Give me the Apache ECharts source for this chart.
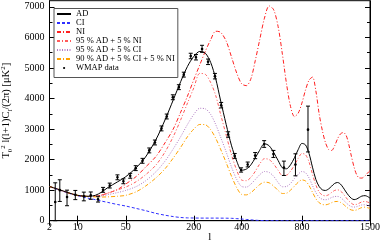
<!DOCTYPE html>
<html>
<head>
<meta charset="utf-8">
<script src="https://cdn.jsdelivr.net/npm/echarts@6/dist/echarts.min.js"></script>
<style>html,body{margin:0;padding:0;background:#fff}#c{width:382px;height:242px}</style>
</head>
<body>
<div id="c"></div>
<script>
// multipole grid for the model curves
const ell = [2,3,4,6,8,10,13,16,20,25,30,40,50,65,80,100,120,140,160,180,200,220,240,260,280,300,325,350,375,400,425,450,475,500,530,560,590,620,650,680,710,740,770,800,830,860,890,920,950,980,1010,1040,1070,1100,1130,1160,1190,1220,1250,1280,1310,1340,1370,1400,1440,1470,1500];
const adVals = [1120,1060,1010,930,870,830,805,800,830,940,1080,1270,1440,1740,2080,2650,3300,3950,4550,5050,5380,5540,5480,5180,4650,3950,3150,2450,1950,1650,1690,1830,2060,2300,2520,2450,2230,1970,1730,1700,1830,2060,2330,2530,2480,2200,1750,1350,1120,1010,990,1040,1130,1220,1250,1200,1080,940,820,730,690,710,760,805,820,790,740];
const ciVals = [1120,1050,1000,920,860,820,770,730,690,640,600,530,480,400,330,240,180,135,105,92,88,86,85,85,85,84,82,78,68,55,40,27,16,8,3,0,0,0,0,0,0,0,0,0,0,0,0,0,0,0,0,0,0,0,0,0,0,0,0,0,0,0,0,0,0,0,0];
const niVals = [1120,1050,1000,920,860,820,800,790,800,840,900,1020,1200,1450,1750,2100,2550,3000,3550,4080,4620,5100,5550,5920,6200,6170,5880,5350,4830,4480,4420,4650,5250,5900,6630,7030,6900,6350,5450,4480,3740,3410,3520,3850,4280,4600,4700,4250,3500,2950,2550,2330,2300,2450,2680,2840,2885,2800,2500,2100,1750,1500,1400,1395,1470,1560,1640];
const m1Vals = [1120,1060,1010,930,870,830,805,795,800,840,900,1010,1100,1280,1500,1820,2250,2750,3300,3850,4350,4820,4790,4520,4100,3500,2800,2150,1650,1330,1310,1420,1620,1850,2030,2000,1850,1650,1480,1490,1620,1820,2040,2200,2160,1920,1520,1170,940,840,815,850,925,990,1010,975,880,760,650,570,525,535,575,615,630,610,580];
const m2Vals = [1120,1060,1010,930,870,830,805,790,790,810,850,920,990,1120,1300,1600,1950,2350,2750,3150,3480,3680,3660,3480,3150,2750,2250,1750,1350,1120,1100,1200,1350,1500,1610,1580,1450,1250,1110,1120,1220,1380,1520,1610,1570,1400,1150,920,770,700,685,710,760,790,795,760,680,590,510,460,445,460,490,515,520,500,480];
const m3Vals = [1120,1060,1010,930,870,830,805,790,780,775,780,800,830,950,1130,1400,1700,2050,2400,2750,3000,3150,3140,2980,2700,2350,1900,1450,1080,860,845,920,1050,1180,1260,1240,1130,990,890,900,1000,1130,1260,1335,1300,1150,930,720,590,530,520,545,590,625,630,600,540,460,390,350,337,355,395,430,445,425,400];

// WMAP band powers with error bars
const wmapL  = [3,4,6,9,13,17,22,26,32,40,47,56,64,75,87,98,112,124,139,155,169,190,207,228,250,277,303,334,365,397,432,474,528,588,661,748,851];
const wmapV  = [610,1000,775,850,800,830,700,1010,1150,1420,1290,1470,1720,1960,2300,2560,3020,3410,4040,4370,4780,5390,5350,5620,5200,4730,3780,2820,2120,1660,1840,2130,2500,2180,1740,1840,2980];
const wmapLo = [0,630,490,690,650,700,610,930,1070,1340,1210,1390,1640,1880,2220,2480,2940,3330,3960,4290,4700,5300,5260,5510,5110,4640,3690,2730,2040,1590,1760,2030,2400,2070,1480,1470,2250];
const wmapHi = [1240,1340,1000,990,935,940,800,1090,1230,1500,1370,1550,1800,2040,2380,2640,3100,3490,4120,4450,4860,5480,5440,5740,5290,4820,3870,2910,2200,1730,1920,2230,2620,2300,1950,2190,3750];

// axis ticks
const xTicks = [2,10,50,200,400,800,1500];
const yMajor = [0,1000,2000,3000,4000,5000,6000,7000];
const yMinor = [500,1500,2500,3500,4500,5500,6500];

const FONT = 'Liberation Serif';
const tx = l => Math.cbrt(l);           // cube-root abscissa, as in the reference
const xMin = tx(2), xMax = tx(1500);
const xTickVals = xTicks.map(tx);

const chart = echarts.init(document.getElementById('c'), null, {renderer: 'canvas'});

function lineSeries(name, vals, color, dash, z) {
  return {
    name, type: 'line', xAxisIndex: 0, yAxisIndex: 0,
    data: ell.map((l, i) => [tx(l), vals[i]]),
    showSymbol: false, symbol: 'none', smooth: 0.3, z: z || 2,
    lineStyle: {color, width: 1, type: dash},
    itemStyle: {color},
    emphasis: {disabled: true}
  };
}

const wmapData = wmapL.map((l, i) => [tx(l), wmapV[i], wmapLo[i], wmapHi[i]]);

const baseY = {min: 0, max: 7200, type: 'value', splitLine: {show: false}};

const option = {
  animation: false,
  backgroundColor: '#fff',
  grid: {left: 49.5, right: 12, top: 0.7, bottom: 21.3, show: true, borderColor: '#000', borderWidth: 1,
         containLabel: false, outerBoundsMode: 'none'},
  xAxis: [
    {
      type: 'value', min: xMin, max: xMax, position: 'bottom',
      name: 'l', nameLocation: 'middle', nameGap: 11, nameMoveOverlap: false,
      nameTextStyle: {fontFamily: FONT, fontSize: 11, color: '#000', verticalAlign: 'top'},
      axisLine: {show: true, lineStyle: {color: '#000', width: 1}},
      axisTick: {show: true, inside: true, length: 5, customValues: xTickVals, lineStyle: {color: '#000'}},
      axisLabel: {show: true, customValues: xTickVals, margin: 2, fontFamily: FONT, fontSize: 10, color: '#000',
        formatter: v => String(Math.round(v * v * v))},
      splitLine: {show: false}
    },
    {
      type: 'value', min: xMin, max: xMax, position: 'top',
      axisLine: {show: true, lineStyle: {color: '#000', width: 1}},
      axisTick: {show: true, inside: true, length: 5, customValues: xTickVals, lineStyle: {color: '#000'}},
      axisLabel: {show: false}, splitLine: {show: false}
    }
  ],
  yAxis: [
    Object.assign({}, baseY, {
      position: 'left',
      name: '{m|T}{s|0}{p|2}{m| l(l+1)C}{s|l}{m|/(2π) [μK}{p|2}{m|]}',
      nameLocation: 'middle', nameGap: 33,
      nameTextStyle: {fontFamily: FONT, color: '#000', rich: {
        m: {fontFamily: FONT, fontSize: 10.5, color: '#000', lineHeight: 14},
        s: {fontFamily: FONT, fontSize: 7, color: '#000', lineHeight: 7, verticalAlign: 'bottom'},
        p: {fontFamily: FONT, fontSize: 7, color: '#000', lineHeight: 7, verticalAlign: 'top'}
      }},
      axisLine: {show: true, lineStyle: {color: '#000', width: 1}},
      axisTick: {show: true, inside: true, length: 5, customValues: yMajor, lineStyle: {color: '#000'}},
      axisLabel: {show: true, customValues: yMajor, margin: 5, fontFamily: FONT, fontSize: 10, color: '#000',
        formatter: v => String(v)}
    }),
    Object.assign({}, baseY, {
      position: 'left',
      axisLine: {show: false},
      axisTick: {show: true, inside: true, length: 3, customValues: yMinor, lineStyle: {color: '#000'}},
      axisLabel: {show: false}
    }),
    Object.assign({}, baseY, {
      position: 'right',
      axisLine: {show: true, lineStyle: {color: '#000', width: 1}},
      axisTick: {show: true, inside: true, length: 5, customValues: yMajor, lineStyle: {color: '#000'}},
      axisLabel: {show: false}
    }),
    Object.assign({}, baseY, {
      position: 'right',
      axisLine: {show: false},
      axisTick: {show: true, inside: true, length: 3, customValues: yMinor, lineStyle: {color: '#000'}},
      axisLabel: {show: false}
    })
  ],
  legend: {
    orient: 'vertical', left: 54, top: 8.5,
    padding: [1, 3, 5, 2],
    itemWidth: 14, itemHeight: 6, itemGap: 0,
    backgroundColor: '#fff', borderColor: '#555', borderWidth: 1, borderRadius: 0,
    selectedMode: false,
    itemStyle: {opacity: 0},
    textStyle: {fontFamily: FONT, fontSize: 8.5, color: '#000', lineHeight: 9},
    data: [
      'AD', 'CI', 'NI', '95 % AD + 5 % NI', '95 % AD + 5 % CI', '90 % AD + 5 % CI + 5 % NI',
      {name: 'WMAP data', icon: 'path://M0,0M14,6M6,3a1.1,1.1 0 1,0 2.2,0a1.1,1.1 0 1,0 -2.2,0Z',
       itemStyle: {opacity: 1, color: '#000'}}
    ]
  },
  series: [
    lineSeries('AD', adVals, '#000000', 'solid', 6),
    lineSeries('CI', ciVals, '#2f2fff', [3, 2], 3),
    lineSeries('NI', niVals, '#ff2020', [4, 2, 1, 2], 3),
    lineSeries('95 % AD + 5 % NI', m1Vals, '#ff5a5a', [3, 2, 1, 2], 3),
    lineSeries('95 % AD + 5 % CI', m2Vals, '#b07cc2', [1, 1.5], 3),
    lineSeries('90 % AD + 5 % CI + 5 % NI', m3Vals, '#ffa200', [4, 2, 1, 2], 3),
    {
      name: 'WMAP data', type: 'custom', xAxisIndex: 0, yAxisIndex: 0, z: 7,
      data: wmapData,
      encode: {x: 0, y: [1, 2, 3]},
      itemStyle: {color: '#000'},
      renderItem: function (params, api) {
        const x = api.value(0);
        const p = api.coord([x, api.value(1)]);
        const lo = api.coord([x, api.value(2)]);
        const hi = api.coord([x, api.value(3)]);
        const w = 2;
        const st = {stroke: '#000', lineWidth: 1};
        return {type: 'group', children: [
          {type: 'line', shape: {x1: hi[0], y1: hi[1], x2: lo[0], y2: lo[1]}, style: st},
          {type: 'line', shape: {x1: hi[0] - w, y1: hi[1], x2: hi[0] + w, y2: hi[1]}, style: st},
          {type: 'line', shape: {x1: lo[0] - w, y1: lo[1], x2: lo[0] + w, y2: lo[1]}, style: st},
          {type: 'circle', shape: {cx: p[0], cy: p[1], r: 1.3}, style: {fill: '#000'}}
        ]};
      }
    }
  ]
};
chart.setOption(option);
</script>
</body>
</html>
